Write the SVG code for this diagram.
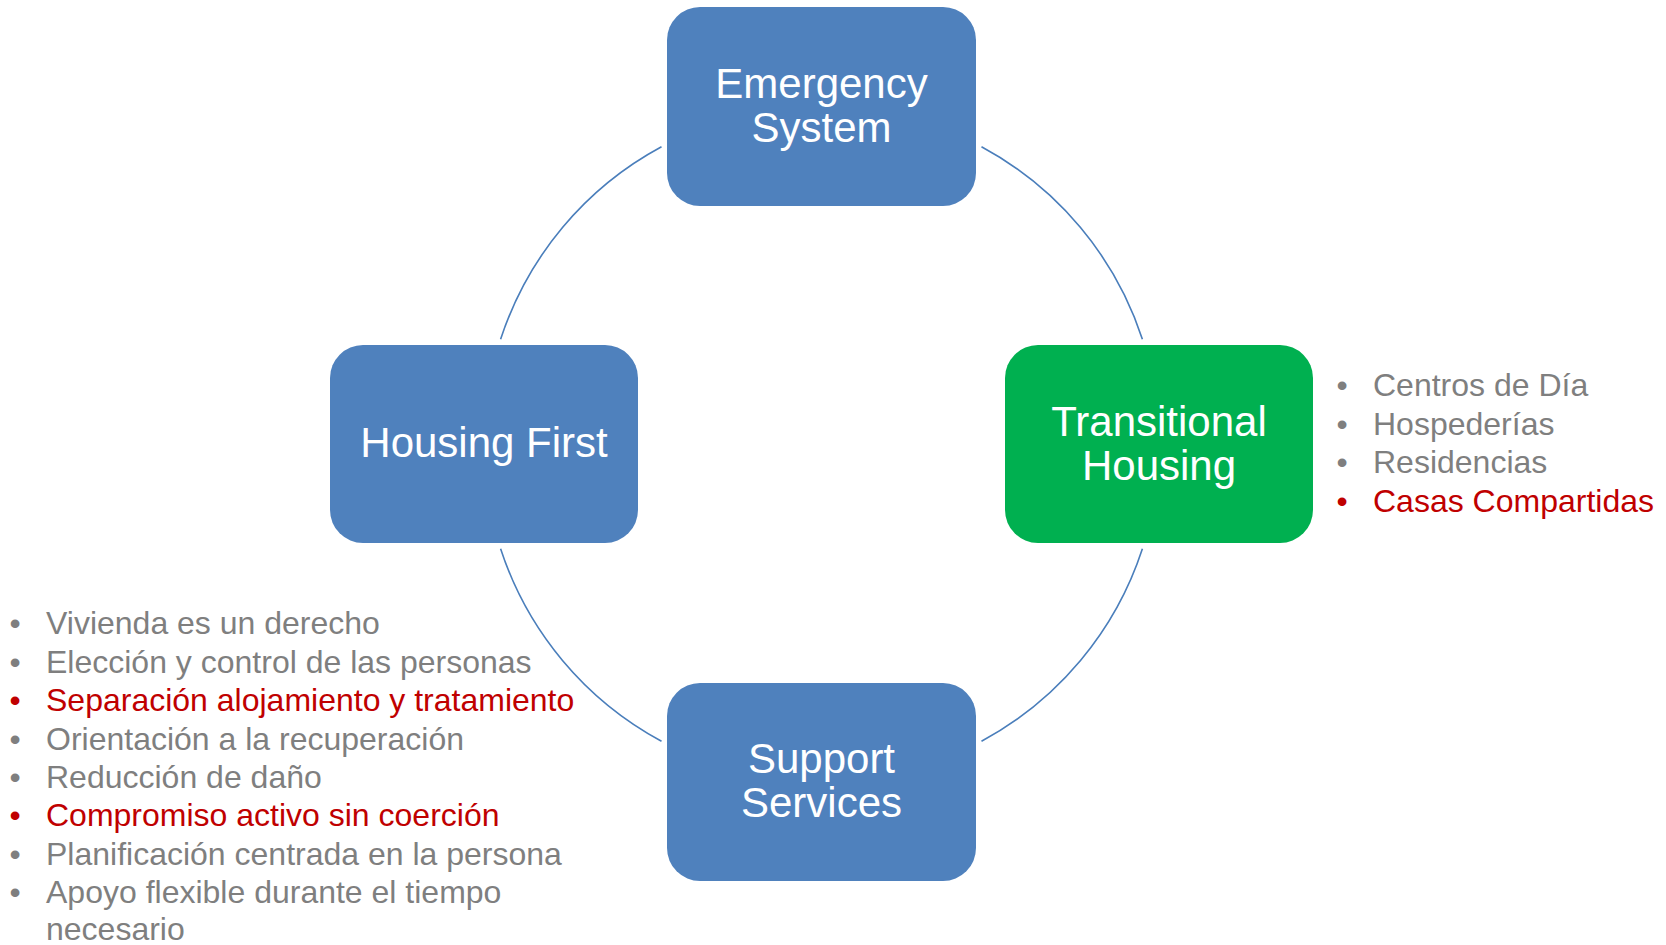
<svg xmlns="http://www.w3.org/2000/svg" width="1666" height="945" viewBox="0 0 1666 945">
<style>
.box{fill:#4f81bd}
.green{fill:#00b050}
.lbl{font-family:"Liberation Sans",Arial,sans-serif;font-size:42px;fill:#ffffff;text-anchor:middle}
.arc{fill:none;stroke:#4a7ebb;stroke-width:1.6}
.li{font-family:"Liberation Sans",Arial,sans-serif;font-size:32px}
.g{fill:#7f7f7f}
.r{fill:#c00000}
.bul{text-anchor:middle}
</style>
<rect width="1666" height="945" fill="#ffffff"/>
<g id="connectors">
<path class="arc" d="M500.6,339.3 A337.5,337.5 0 0 1 661.5,146.8"/>
<path class="arc" d="M981.5,146.8 A337.5,337.5 0 0 1 1142.4,339.3"/>
<path class="arc" d="M1142.4,548.7 A337.5,337.5 0 0 1 981.5,741.2"/>
<path class="arc" d="M661.5,741.2 A337.5,337.5 0 0 1 500.6,548.7"/>
</g>
<g id="emergency-system">
<rect class="box" x="667" y="7" width="309" height="199" rx="33" ry="33"/>
<text class="lbl" x="821.5" y="98.3">Emergency</text>
<text class="lbl" x="821.5" y="141.7">System</text>
</g>
<g id="housing-first">
<rect class="box" x="330" y="345" width="308" height="198" rx="33" ry="33"/>
<text class="lbl" x="484" y="457">Housing First</text>
</g>
<g id="transitional-housing">
<rect class="green" x="1005" y="345" width="308" height="198" rx="33" ry="33"/>
<text class="lbl" x="1159" y="436">Transitional</text>
<text class="lbl" x="1159" y="479.5">Housing</text>
</g>
<g id="support-services">
<rect class="box" x="667" y="683" width="309" height="198" rx="33" ry="33"/>
<text class="lbl" x="821.5" y="772.5">Support</text>
<text class="lbl" x="821.5" y="816.5">Services</text>
</g>
<g id="transitional-list" class="li">
<text class="g bul" x="1342" y="396">•</text><text class="g" x="1373" y="396">Centros de Día</text>
<text class="g bul" x="1342" y="434.5">•</text><text class="g" x="1373" y="434.5">Hospederías</text>
<text class="g bul" x="1342" y="473">•</text><text class="g" x="1373" y="473">Residencias</text>
<text class="r bul" x="1342" y="511.5">•</text><text class="r" x="1373" y="511.5">Casas Compartidas</text>
</g>
<g id="housing-first-list" class="li">
<text class="g bul" x="15" y="634.3">•</text><text class="g" x="46" y="634.3">Vivienda es un derecho</text>
<text class="g bul" x="15" y="672.7">•</text><text class="g" x="46" y="672.7">Elección y control de las personas</text>
<text class="r bul" x="15" y="711.1">•</text><text class="r" x="46" y="711.1">Separación alojamiento y tratamiento</text>
<text class="g bul" x="15" y="749.5">•</text><text class="g" x="46" y="749.5">Orientación a la recuperación</text>
<text class="g bul" x="15" y="787.9">•</text><text class="g" x="46" y="787.9">Reducción de daño</text>
<text class="r bul" x="15" y="826.3">•</text><text class="r" x="46" y="826.3">Compromiso activo sin coerción</text>
<text class="g bul" x="15" y="864.7">•</text><text class="g" x="46" y="864.7">Planificación centrada en la persona</text>
<text class="g bul" x="15" y="903.1">•</text><text class="g" x="46" y="903.1">Apoyo flexible durante el tiempo</text>
<text class="g" x="46" y="939.5">necesario</text>
</g>
</svg>
